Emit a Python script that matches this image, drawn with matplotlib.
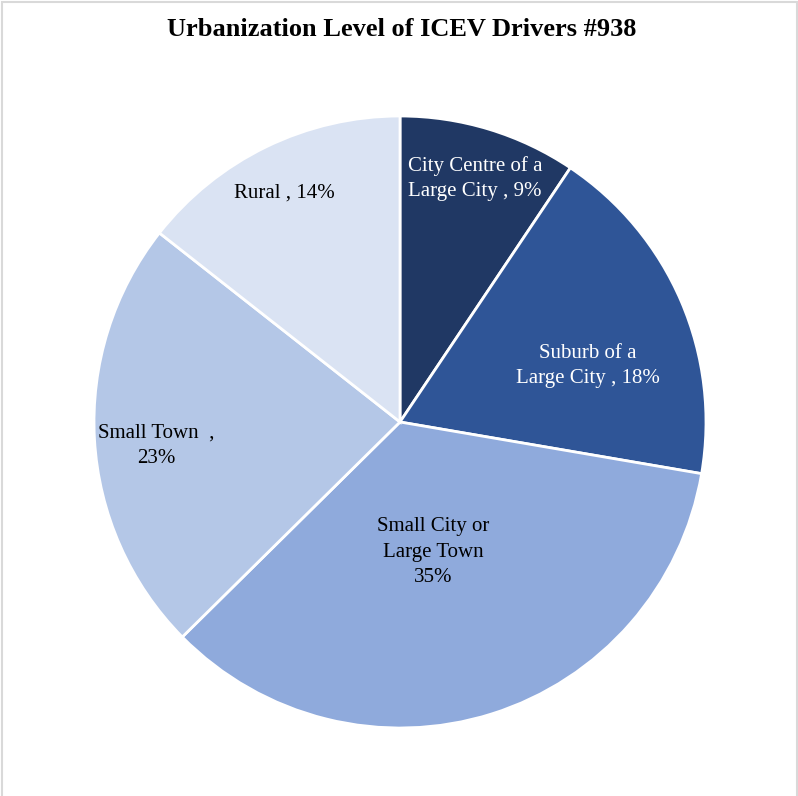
import matplotlib
matplotlib.use("Agg")
import matplotlib.pyplot as plt
from matplotlib.patches import Rectangle

categories = ["City Centre of a Large City", "Suburb of a Large City", "Small City or Large Town", "Small Town", "Rural"]
values = [9.4, 18.3, 34.9, 23.0, 14.4]
pct_labels = ["9%", "18%", "35%", "23%", "14%"]
colors = ["#203864", "#2F5597", "#8FAADC", "#B4C7E7", "#DAE3F3"]
text_colors = ["white", "white", "black", "black", "black"]
title = "Urbanization Level of ICEV Drivers #938"

plt.rcParams['font.family'] = ['Liberation Serif', 'DejaVu Serif']

W, H = 798, 796
fig = plt.figure(figsize=(W / 100, H / 100), dpi=100)
fig.patch.set_facecolor("white")

cx, cy, R = 400, 422, 306
ax = fig.add_axes([(cx - R) / W, (H - cy - R) / H, 2 * R / W, 2 * R / H])
wedges, _ = ax.pie(values, colors=colors, startangle=90, counterclock=False,
                   radius=1, wedgeprops=dict(edgecolor="white", linewidth=2))
ax.set_xlim(-1, 1)
ax.set_ylim(-1, 1)
ax.set_aspect("equal")
ax.axis("off")

label_texts = [
    "City Centre of a\nLarge City , " + pct_labels[0],
    "Suburb of a\nLarge City , " + pct_labels[1],
    "Small City or\nLarge Town\n" + pct_labels[2],
    "Small Town  ,\n" + pct_labels[3],
    "Rural , " + pct_labels[4],
]
label_pos = [(0.245, 0.795), (0.614, 0.183), (0.108, -0.425), (-0.797, -0.078), (-0.379, 0.748)]
for txt, (x, y), tc in zip(label_texts, label_pos, text_colors):
    ax.text(x, y, txt, ha="center", va="center", fontsize=15, color=tc, linespacing=1.45)

fig.text(402 / W, 1 - 30 / H, title, ha="center", va="center", fontsize=19, fontweight="bold")

# light border
fig.add_artist(Rectangle((1.5 / W, -0.01), (W - 3) / W, 1.01 - 1.5 / H, transform=fig.transFigure,
                         fill=False, edgecolor="#D9D9D9", linewidth=1.5))

fig.savefig("out.png", dpi=100, facecolor="white")
